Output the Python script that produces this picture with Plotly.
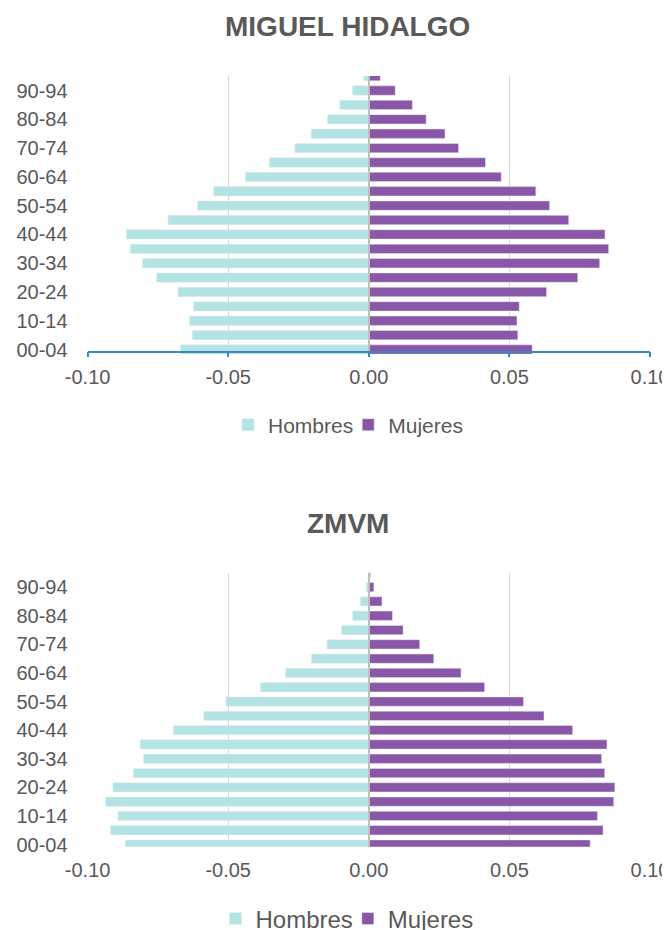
import plotly.graph_objects as go

ages = ["00-04", "05-09", "10-14", "15-19", "20-24", "25-29", "30-34", "35-39",
        "40-44", "45-49", "50-54", "55-59", "60-64", "65-69", "70-74", "75-79",
        "80-84", "85-89", "90-94", "95+"]
tick_labels = ages[0:19:2]

mh_hombres = [0.0670, 0.0628, 0.0638, 0.0623, 0.0679, 0.0755, 0.0805, 0.0848, 0.0862, 0.0714,
              0.0609, 0.0552, 0.0439, 0.0354, 0.0263, 0.0205, 0.0147, 0.0103, 0.0058, 0.0018]
mh_mujeres = [0.0581, 0.0530, 0.0527, 0.0535, 0.0632, 0.0743, 0.0821, 0.0853, 0.0840, 0.0711,
              0.0643, 0.0594, 0.0471, 0.0415, 0.0319, 0.0271, 0.0204, 0.0155, 0.0094, 0.0041]

zm_hombres = [0.0866, 0.0919, 0.0892, 0.0936, 0.0910, 0.0837, 0.0801, 0.0813, 0.0695, 0.0587,
              0.0508, 0.0386, 0.0296, 0.0204, 0.0149, 0.0097, 0.0058, 0.0030, 0.0009, 0.0003]
zm_mujeres = [0.0787, 0.0833, 0.0813, 0.0871, 0.0875, 0.0839, 0.0828, 0.0847, 0.0725, 0.0623,
              0.0550, 0.0412, 0.0328, 0.0231, 0.0181, 0.0122, 0.0084, 0.0047, 0.0018, 0.0006]

titles = ["MIGUEL HIDALGO", "ZMVM"]
x_ticks = [-0.10, -0.05, 0.0, 0.05, 0.10]
x_ticktext = ["-0.10", "-0.05", "0.00", "0.05", "0.10"]

C_H = "#B3E3E2"
C_M = "#8A56A8"
TXT = "#595959"
FONT = "Liberation Sans, Arial, sans-serif"
OFF = 8                      # page body margin
W, H = 670 - OFF, 930 - OFF  # figure fits inside the window


def px_x(px):
    return (px - OFF) / W


def py(px):
    return 1 - (px - OFF) / H


fig = go.Figure()

fig.add_trace(go.Bar(y=ages, x=[-v for v in mh_hombres], orientation="h", name="Hombres",
                     marker_color=C_H, xaxis="x", yaxis="y", legend="legend"))
fig.add_trace(go.Bar(y=ages, x=mh_mujeres, orientation="h", name="Mujeres",
                     marker_color=C_M, xaxis="x", yaxis="y", legend="legend"))
fig.add_trace(go.Bar(y=ages, x=[-v for v in zm_hombres], orientation="h", name="Hombres",
                     marker_color=C_H, xaxis="x2", yaxis="y2", legend="legend2"))
fig.add_trace(go.Bar(y=ages, x=zm_mujeres, orientation="h", name="Mujeres",
                     marker_color=C_M, xaxis="x2", yaxis="y2", legend="legend2"))

xdom = [px_x(87.6), px_x(650)]
common_x = dict(range=[-0.10, 0.10], tickvals=x_ticks, ticktext=x_ticktext,
                showgrid=True, gridcolor="#D9D9D9", gridwidth=1,
                zeroline=True, zerolinecolor="#BFBFBF", zerolinewidth=1.5,
                tickfont=dict(family=FONT, size=20, color=TXT), fixedrange=True,
                automargin=False)
common_y = dict(type="category", categoryorder="array", categoryarray=ages,
                tickvals=tick_labels, ticktext=tick_labels, showgrid=False,
                zeroline=False, showline=False, ticks="", ticklabelstandoff=19,
                tickfont=dict(family=FONT, size=20, color=TXT), fixedrange=True,
                automargin=False)

fig.update_layout(
    width=W, height=H, autosize=False,
    margin=dict(l=0, r=0, t=0, b=0, autoexpand=False),
    paper_bgcolor="white", plot_bgcolor="white",
    barmode="relative", bargap=0.35,
    font=dict(family=FONT, color=TXT),
    xaxis=dict(domain=xdom, anchor="free", position=py(351.5),
               showline=True, linecolor="#3C87C0", linewidth=1.5,
               ticks="outside", ticklen=5, tickcolor="#3C87C0", tickwidth=1.5,
               ticklabelstandoff=3, **common_x),
    yaxis=dict(domain=[py(354), py(76)], anchor="x", range=[-0.31, 19.01], **common_y),
    xaxis2=dict(domain=xdom, anchor="y2", showline=False, ticks="", ticklabelstandoff=9,
                **common_x),
    yaxis2=dict(domain=[py(846.7), py(572.7)], anchor="x2", range=[-0.15, 19.01], **common_y),
    legend=dict(orientation="h", x=px_x(353), y=py(425), xanchor="center", yanchor="middle",
                font=dict(family=FONT, size=21, color=TXT), itemwidth=30, indentation=-10,
                bgcolor="rgba(0,0,0,0)"),
    legend2=dict(orientation="h", x=px_x(352), y=py(919), xanchor="center", yanchor="middle",
                 font=dict(family=FONT, size=24, color=TXT), itemwidth=30, indentation=-10,
                 bgcolor="rgba(0,0,0,0)"),
    annotations=[
        dict(text="<b>" + titles[0] + "</b>", x=px_x(347), y=py(27), xref="paper", yref="paper",
             showarrow=False, xanchor="center", yanchor="middle",
             font=dict(family=FONT, size=28, color=TXT)),
        dict(text="<b>" + titles[1] + "</b>", x=px_x(348), y=py(523), xref="paper", yref="paper",
             showarrow=False, xanchor="center", yanchor="middle",
             font=dict(family=FONT, size=28, color=TXT)),
    ],
)

try:
    fig.update_xaxes(zerolinelayer="above traces")
except Exception:
    for xr, yr in (("x", "y domain"), ("x2", "y2 domain")):
        fig.add_shape(type="line", xref=xr, yref=yr, x0=0, x1=0, y0=0, y1=1,
                      line=dict(color="#BFBFBF", width=1.5), layer="above")

fig.write_html("out.html")
